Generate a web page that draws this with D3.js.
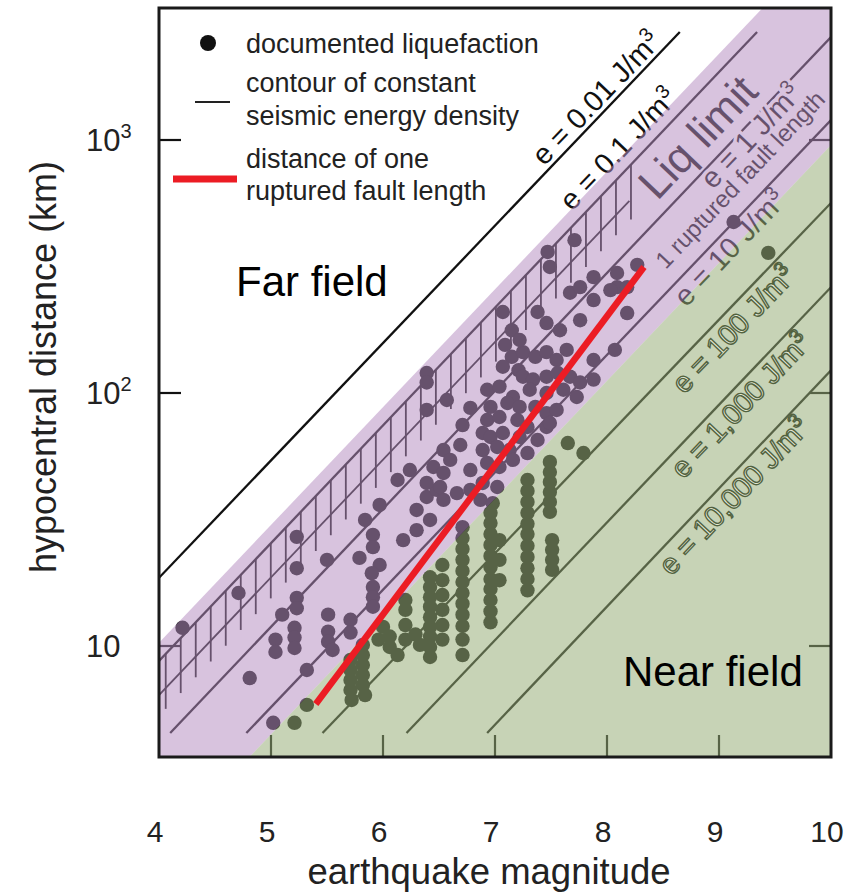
<!DOCTYPE html>
<html>
<head>
<meta charset="utf-8">
<script src="https://cdn.jsdelivr.net/npm/d3@7"></script>
<style>
  html, body { margin: 0; padding: 0; background: #fff; }
  svg { display: block; font-family: "Liberation Sans", Arial, Helvetica, sans-serif; }
</style>
</head>
<body>
<svg id="chart" width="851" height="892"></svg>
<script>
// DATA
const magnitudeTicks = [4, 5, 6, 7, 8, 9, 10];
const distanceTicks = [10, 100, 1000];
const distanceTickSup = ["", "2", "3"];

// contours of constant seismic energy density, endpoints as [magnitude, km]
const energyLabels = ["0.01", "0.1", "1", "10", "100", "1,000", "10,000"];
const contourFrom = [[4.0, 18.6], [4.0, 8.73], [4.1, 4.53], [4.78, 4.53], [5.46, 4.53], [6.21, 4.53], [6.93, 4.53]];
const contourTo = [[8.65, 2673], [9.34, 2673], [10, 2553], [10, 1199], [10, 564], [10, 262], [10, 123]];

const liqZoneTop = [[4, 10.3], [10, 6400]];
const nearFieldTop = [[4, 1.53], [10, 955]];
const liqLimitRail = [[4, 6.4], [8.2, 575]];
const faultLength = [[5.4, 5.9], [8.33, 315]];

// documented liquefaction, [magnitude, hypocentral distance km]
const liquefactionSites = [
  [4.21, 11.8], [4.71, 16.2], [4.81, 7.47], [5.02, 4.97],
  [5.23, 27.0], [5.23, 20.3], [5.23, 15.5], [5.23, 14.1], [5.10, 13.3], [5.21, 11.8], [5.21, 10.8], [5.21, 9.82],
  [5.04, 10.6], [5.04, 9.47], [5.32, 8.04],
  [5.50, 21.9], [5.51, 13.3], [5.51, 11.4], [5.51, 10.4], [5.55, 9.64],
  [5.71, 12.7], [5.71, 11.3], [5.79, 22.3], [5.91, 27.5], [5.91, 24.6], [5.97, 20.9], [5.90, 19.4],
  [5.91, 17.1], [5.91, 15.6], [5.91, 14.3],
  [6.18, 26.2],
  [6.30, 34.5], [6.39, 38.8], [6.48, 41.4], [6.30, 28.7], [6.42, 31.5], [6.54, 37.8], [6.66, 40.2], [6.78, 41.4],
  [6.39, 120], [6.39, 110], [6.57, 93.8], [6.39, 85.7], [6.78, 87.3], [6.96, 88.1],
  [6.89, 69.5], [6.54, 59.5], [6.60, 54.4], [6.45, 51.0], [6.54, 48.3], [6.39, 44.1], [6.51, 42.5],
  [6.78, 49.6], [6.89, 44.1], [6.69, 62.3], [6.71, 74.7], [7.09, 155],
  [7.67, 249], [7.76, 262], [7.38, 209], [7.07, 209], [7.76, 194], [7.88, 233], [8.09, 262], [8.18, 207],
  [8.07, 148], [7.46, 189], [7.58, 177],
  [7.15, 139], [7.25, 145], [7.36, 139], [7.46, 145], [7.55, 135], [7.64, 148],
  [7.07, 127], [7.21, 123],
  [7.25, 116], [7.34, 113], [7.46, 116], [7.56, 120], [7.67, 116], [7.76, 110], [7.88, 113], [7.88, 135],
  [6.93, 103], [7.04, 106],
  [7.16, 96.4], [7.31, 103], [7.46, 100], [7.61, 103], [7.73, 96.4],
  [7.11, 91.3], [7.22, 88.1], [7.36, 88.1], [7.46, 83.3], [7.55, 85.7],
  [6.93, 78.2], [7.04, 80.4], [7.20, 78.2], [7.29, 73.4], [7.46, 73.4],
  [6.96, 67.0], [7.07, 69.5], [7.22, 67.0], [7.38, 65.2], [7.49, 76.1],
  [6.89, 59.5], [7.02, 61.2], [7.13, 59.5], [7.29, 57.9],
  [6.93, 52.9], [7.04, 51.0], [7.16, 54.4],
  [7.02, 42.5], [6.87, 37.8], [6.98, 36.7],
  [7.47, 361], [7.49, 315], [7.88, 287], [8.09, 298], [8.27, 321], [8.18, 262], [8.03, 255], [9.13, 474], [7.71, 402],
  [7.15, 177], [7.22, 162],
  [6.24, 49.6], [6.13, 45.3], [5.97, 36.1], [5.84, 31.5],
  [5.21, 4.97], [5.32, 5.85],
  [5.71, 8.81], [5.71, 8.04], [5.71, 7.34], [5.71, 6.70], [5.72, 6.12],
  [5.82, 10.1], [5.82, 9.21], [5.82, 8.41], [5.82, 7.68], [5.82, 7.01], [5.84, 6.40],
  [6.00, 11.9], [6.06, 10.9], [6.06, 9.91], [6.13, 9.21], [5.96, 10.6], [6.20, 10.6], [6.29, 11.1], [6.33, 10.1],
  [6.20, 15.2], [6.20, 13.9], [6.20, 12.1],
  [6.42, 18.7], [6.42, 17.1], [6.42, 15.6], [6.42, 14.3], [6.42, 13.0], [6.42, 11.9], [6.42, 10.9], [6.42, 9.91], [6.42, 9.05],
  [6.53, 20.9], [6.53, 18.2], [6.53, 15.9], [6.53, 13.9], [6.53, 12.1], [6.53, 10.6],
  [6.71, 29.5], [6.71, 26.7], [6.71, 24.2], [6.71, 21.9], [6.71, 19.8], [6.71, 17.9], [6.71, 16.2], [6.71, 14.7],
  [6.71, 13.3], [6.71, 12.0], [6.71, 10.6], [6.71, 9.21],
  [6.96, 33.6], [6.96, 30.6], [6.96, 27.7], [6.96, 25.1], [6.96, 22.7], [6.96, 20.5], [6.96, 18.4], [6.96, 16.8],
  [6.96, 15.2], [6.96, 13.7], [6.96, 12.4],
  [7.04, 26.2], [7.04, 21.9], [7.04, 18.2],
  [7.29, 45.3], [7.29, 41.0], [7.29, 37.1], [7.29, 33.6], [7.29, 30.4], [7.29, 27.7], [7.29, 24.9], [7.29, 22.5],
  [7.29, 20.3], [7.29, 18.4], [7.29, 16.6],
  [7.49, 53.4], [7.49, 48.7], [7.49, 44.5], [7.49, 40.6], [7.49, 37.1], [7.49, 33.9],
  [7.51, 26.2], [7.51, 24.0], [7.51, 21.9], [7.51, 20.0],
  [7.65, 63.4], [7.79, 57.9],
  [9.44, 358],
];

// CANVAS SETUP
const svg = d3.select("#chart");
const frame = { left: 159, right: 831, top: 8, bottom: 757 };

const x = d3.scaleLinear().domain([4, 10]).range([frame.left, frame.right]);
const y = d3.scaleLog().domain([10, 1000]).range([646, 140]);

const line = d3.line().x((d) => x(d[0])).y((d) => y(d[1]));

svg.append("rect").attr("width", 851).attr("height", 892).attr("fill", "#fff");

const defs = svg.append("defs");
defs
  .append("clipPath")
  .attr("id", "plotClip")
  .append("rect")
  .attr("x", frame.left)
  .attr("y", frame.top)
  .attr("width", frame.right - frame.left)
  .attr("height", frame.bottom - frame.top);

const contours = energyLabels.map((e, i) => ({ e, seg: [contourFrom[i], contourTo[i]] }));

// helpers on a straight segment in log-distance space
const alongLine = (seg, m) => {
  const [a, b] = seg;
  const t = (m - a[0]) / (b[0] - a[0]);
  const lr = Math.log10(a[1]) + t * (Math.log10(b[1]) - Math.log10(a[1]));
  return [x(m), y(Math.pow(10, lr))];
};
const lineAngle = (seg) => {
  const p0 = [x(seg[0][0]), y(seg[0][1])];
  const p1 = [x(seg[1][0]), y(seg[1][1])];
  return (Math.atan2(p1[1] - p0[1], p1[0] - p0[0]) * 180) / Math.PI;
};

// RENDER - black layer (tinted later by the zone overlays)
const gBase = svg.append("g").attr("clip-path", "url(#plotClip)");

gBase
  .selectAll("path.contour")
  .data(contours)
  .join("path")
  .attr("class", "contour")
  .attr("d", (d) => line(d.seg))
  .attr("fill", "none")
  .attr("stroke", "#111")
  .attr("stroke-width", 2.3);

// liquefaction limit: rail plus hatches hanging from the e = 0.1 contour
gBase
  .append("path")
  .attr("d", line(liqLimitRail))
  .attr("fill", "none")
  .attr("stroke", "#111")
  .attr("stroke-width", 1.8);

const hatchMags = d3.range(4.06, 8.22, 0.134);
gBase
  .selectAll("line.hatch")
  .data(hatchMags)
  .join("line")
  .attr("class", "hatch")
  .attr("x1", (m) => alongLine(contours[1].seg, m)[0])
  .attr("x2", (m) => alongLine(contours[1].seg, m)[0])
  .attr("y1", (m) => alongLine(contours[1].seg, m)[1])
  .attr("y2", (m) => alongLine(contours[1].seg, m)[1] + 55)
  .attr("stroke", "#111")
  .attr("stroke-width", 1.8);

gBase
  .selectAll("circle.site")
  .data(liquefactionSites)
  .join("circle")
  .attr("class", "site")
  .attr("cx", (d) => x(d[0]))
  .attr("cy", (d) => y(d[1]))
  .attr("r", 7.2)
  .attr("fill", "#111");

// ticks, inward
const gTicks = svg.append("g").attr("stroke", "#111").attr("stroke-width", 2.2);
gTicks
  .selectAll("line.xt")
  .data(magnitudeTicks.slice(1, -1))
  .join("line")
  .attr("x1", (d) => x(d))
  .attr("x2", (d) => x(d))
  .attr("y1", frame.bottom)
  .attr("y2", frame.bottom - 22);
gTicks
  .selectAll("line.yl")
  .data(distanceTicks)
  .join("line")
  .attr("x1", frame.left)
  .attr("x2", frame.left + 22)
  .attr("y1", (d) => y(d))
  .attr("y2", (d) => y(d));
gTicks
  .selectAll("line.yr")
  .data(distanceTicks)
  .join("line")
  .attr("x1", frame.right)
  .attr("x2", frame.right - 22)
  .attr("y1", (d) => y(d))
  .attr("y2", (d) => y(d));

// contour labels
const labelSpots = [
  { k: 0, m: 8.0, dy: -15 },
  { k: 1, m: 8.23, dy: -20 },
  { k: 2, m: 9.22, dy: 10, halo: true },
  { k: 3, m: 9.0, dy: 15 },
  { k: 4, m: 9.02, dy: 17, outline: true },
  { k: 5, m: 9.09, dy: 16, outline: true },
  { k: 6, m: 9.03, dy: 16, outline: true },
];

function placeLabel(g, seg, m, dy, size) {
  const p = alongLine(seg, m);
  return g
    .append("text")
    .attr("transform", `translate(${p[0]},${p[1]}) rotate(${lineAngle(seg)})`)
    .attr("y", dy)
    .attr("text-anchor", "middle")
    .attr("dominant-baseline", "central")
    .attr("font-size", size);
}

function energyText(t, e) {
  t.append("tspan").text(`e = ${e} J/m`);
  t.append("tspan").attr("dy", "-0.4em").attr("font-size", "0.68em").text("3");
}

const gLabels = svg.append("g");
labelSpots
  .filter((s) => !s.outline)
  .forEach((s) => {
    const t = placeLabel(gLabels, contours[s.k].seg, s.m, s.dy, 29).attr("fill", "#111");
    if (s.halo) t.attr("stroke", "#fff").attr("stroke-width", 7).attr("paint-order", "stroke");
    energyText(t, contours[s.k].e);
  });

placeLabel(gLabels, contours[1].seg, 8.62, 29, 44).attr("fill", "#111").text("Liq limit");
placeLabel(gLabels, contours[2].seg, 8.98, 32, 24).attr("fill", "#111").text("1 ruptured fault length");

// ZONE OVERLAYS
const gZones = svg.append("g").attr("clip-path", "url(#plotClip)");
const liqZone = [liqZoneTop[0], liqZoneTop[1], nearFieldTop[1], nearFieldTop[0]];
const nearZone = [nearFieldTop[0], nearFieldTop[1], [10, 1], [4, 1]];

gZones
  .append("path")
  .attr("d", line(liqZone) + "Z")
  .attr("fill", "rgb(181,140,192)")
  .attr("fill-opacity", 0.52);
gZones
  .append("path")
  .attr("d", line(nearZone) + "Z")
  .attr("fill", "rgb(150,172,118)")
  .attr("fill-opacity", 0.535);

labelSpots
  .filter((s) => s.outline)
  .forEach((s) => {
    const t = placeLabel(svg, contours[s.k].seg, s.m, s.dy, 29)
      .attr("fill", "#e6edd7")
      .attr("stroke", "#52623f")
      .attr("stroke-width", 1.4);
    energyText(t, contours[s.k].e);
  });

// fault length line
svg
  .append("path")
  .attr("d", line(faultLength))
  .attr("stroke", "#ec1c24")
  .attr("stroke-width", 6.5)
  .attr("fill", "none");

// frame
svg
  .append("rect")
  .attr("x", frame.left)
  .attr("y", frame.top)
  .attr("width", frame.right - frame.left)
  .attr("height", frame.bottom - frame.top)
  .attr("fill", "none")
  .attr("stroke", "#1a1a1a")
  .attr("stroke-width", 3);

// AXES TEXT
svg
  .selectAll("text.xl")
  .data(magnitudeTicks)
  .join("text")
  .attr("class", "xl")
  .attr("x", (d) => x(d) - 4)
  .attr("y", 842)
  .attr("text-anchor", "middle")
  .attr("font-size", 30)
  .attr("fill", "#222")
  .text((d) => d);

const yl = svg
  .selectAll("text.yl")
  .data(distanceTicks)
  .join("text")
  .attr("class", "yl")
  .attr("x", 86)
  .attr("y", (d) => y(d) + 11)
  .attr("font-size", 31)
  .attr("fill", "#222");
yl.append("tspan").text("10");
yl.append("tspan")
  .attr("dy", -13)
  .attr("font-size", 20)
  .text((d, i) => distanceTickSup[i]);

svg
  .append("text")
  .attr("x", 489)
  .attr("y", 884)
  .attr("text-anchor", "middle")
  .attr("font-size", 36.5)
  .attr("fill", "#222")
  .text("earthquake magnitude");

svg
  .append("text")
  .attr("transform", "translate(56,367) rotate(-90)")
  .attr("text-anchor", "middle")
  .attr("font-size", 36)
  .attr("fill", "#222")
  .text("hypocentral distance (km)");

// FIELD LABELS
svg.append("text").attr("x", 236).attr("y", 296).attr("font-size", 42).attr("fill", "#000").text("Far field");
svg.append("text").attr("x", 623).attr("y", 686).attr("font-size", 42).attr("fill", "#000").text("Near field");

// LEGEND
const gLegend = svg.append("g").attr("font-size", 27).attr("fill", "#222");
gLegend.append("circle").attr("cx", 208).attr("cy", 43).attr("r", 8).attr("fill", "#111");
gLegend.append("text").attr("x", 246).attr("y", 53).text("documented liquefaction");
gLegend.append("line").attr("x1", 195).attr("x2", 230).attr("y1", 102).attr("y2", 102)
  .attr("stroke", "#222").attr("stroke-width", 2);
gLegend.append("text").attr("x", 246).attr("y", 92).text("contour of constant");
gLegend.append("text").attr("x", 246).attr("y", 125).text("seismic energy density");
gLegend.append("line").attr("x1", 173).attr("x2", 237).attr("y1", 179).attr("y2", 179)
  .attr("stroke", "#ec1c24").attr("stroke-width", 7);
gLegend.append("text").attr("x", 246).attr("y", 168).text("distance of one");
gLegend.append("text").attr("x", 246).attr("y", 200).text("ruptured fault length");
</script>
</body>
</html>
